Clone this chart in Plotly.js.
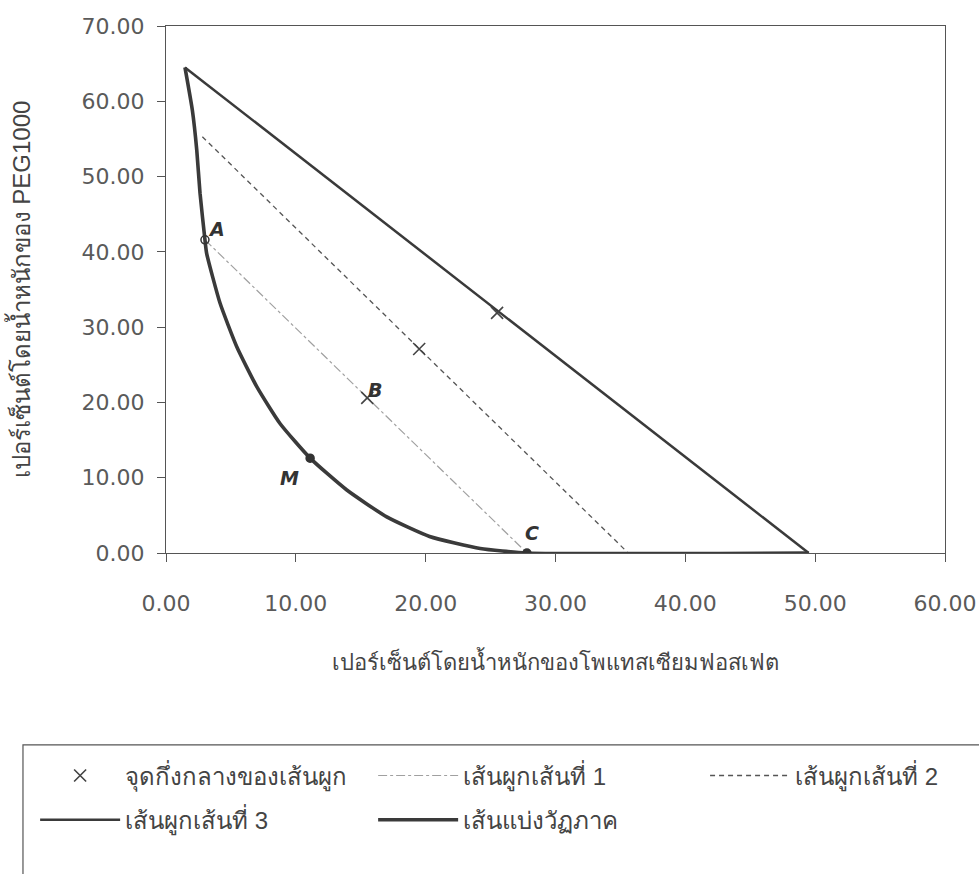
<!DOCTYPE html>
<html>
<head>
<meta charset="utf-8">
<script src="https://cdn.plot.ly/plotly-3.0.1.min.js"></script>
<style>html,body{margin:0;padding:0;background:#fff;}#chart{width:979px;height:874px;}</style>
</head>
<body>
<div id="chart"></div>
<script>
// ---- data ----
const binodalX = [1.46, 2.03, 2.37, 2.62, 3.0, 3.13, 4.16, 5.45, 6.99, 8.78, 11.1, 13.9, 17.0, 20.3, 24.2, 27.8, 49.5];
const binodalY = [64.5, 58.8, 53.5, 47.8, 41.6, 39.8, 33.2, 27.4, 22.1, 17.2, 12.6, 8.4, 4.8, 2.2, 0.6, 0.0, 0.0];

const tie1X = [3.0, 27.8];
const tie1Y = [41.6, 0.0];
const tie2X = [2.8, 35.6];
const tie2Y = [55.3, 0.0];
const tie3X = [1.46, 49.5];
const tie3Y = [64.5, 0.0];

const midX = [15.5, 19.5, 25.5];
const midY = [20.6, 27.1, 31.9];

const pointX = [3.0, 11.1, 27.8];
const pointY = [41.6, 12.6, 0.0];
const pointSymbols = ['circle-open', 'circle', 'circle'];

const labelText = ['A', 'B', 'M', 'C'];
const labelX = [3.9, 16.1, 9.5, 28.2];
const labelY = [43.0, 21.6, 10.0, 2.6];

const names = ['จุดกึ่งกลางของเส้นผูก', 'เส้นผูกเส้นที่ 1', 'เส้นผูกเส้นที่ 2', 'เส้นผูกเส้นที่ 3', 'เส้นแบ่งวัฏภาค'];
const xTitle = 'เปอร์เซ็นต์โดยน้ำหนักของโพแทสเซียมฟอสเฟต';
const yTitle = 'เปอร์เซ็นต์โดยน้ำหนักของ PEG1000';

// ---- chart ----
const FONT = 'Liberation Sans, Arial, DejaVu Sans, Noto Sans, sans-serif';
const TICKFONT = 'DejaVu Sans, Liberation Sans, sans-serif';
const ink = '#3a3a3a';

const traces = [
  {x: tie1X, y: tie1Y, mode: 'lines', name: names[1], legend: 'legend', legendrank: 2,
   line: {color: '#a0a0a0', width: 1.2, dash: 'dashdot'}},
  {x: tie2X, y: tie2Y, mode: 'lines', name: names[2], legend: 'legend3', legendrank: 1,
   line: {color: '#555', width: 1.3, dash: '5px,4px'}},
  {x: tie3X, y: tie3Y, mode: 'lines', name: names[3], legend: 'legend2', legendrank: 1,
   line: {color: ink, width: 2.5}},
  {x: binodalX, y: binodalY, mode: 'lines', name: names[4], legend: 'legend2', legendrank: 2,
   line: {color: ink, width: 3.6, shape: 'spline', smoothing: 0.5}},
  {x: midX, y: midY, mode: 'markers', name: names[0], legend: 'legend', legendrank: 1,
   marker: {symbol: 'x-thin-open', size: 12, line: {color: '#444', width: 1.6}, color: '#444'}},
  {x: pointX, y: pointY, mode: 'markers', showlegend: false,
   marker: {symbol: pointSymbols, size: 8, color: '#333', line: {color: '#333', width: 1.5}}}
];

const annotations = labelText.map((t, i) => ({
  x: labelX[i], y: labelY[i], xref: 'x', yref: 'y', text: '<b><i>' + t + '</i></b>',
  showarrow: false, font: {family: 'DejaVu Sans, sans-serif', size: 19, color: '#333'}
}));

const axisCommon = {
  showgrid: false, zeroline: false, showline: true, linecolor: '#555', linewidth: 1.2,
  mirror: true, ticks: 'outside', ticklen: 8, tickcolor: '#555', tickwidth: 1,
  tickformat: '.2f', dtick: 10, tickfont: {family: TICKFONT, size: 22, color: '#5a5a5a'}
};

const legendCommon = {
  orientation: 'h', xanchor: 'left', yanchor: 'middle',
  entrywidth: 243, entrywidthmode: 'pixels', itemwidth: 80,
  font: {family: FONT, size: 24, color: '#444'}, bgcolor: 'rgba(0,0,0,0)', borderwidth: 0
};

const layout = {
  width: 979, height: 874,
  margin: {l: 166, r: 34, t: 26, b: 321, autoexpand: false},
  paper_bgcolor: '#fff', plot_bgcolor: '#fff',
  font: {family: FONT, color: '#444'},
  xaxis: Object.assign({}, axisCommon, {
    range: [0, 60], ticklabelstandoff: 22, automargin: false,
    title: {text: xTitle, font: {family: FONT, size: 22, color: '#444'}, standoff: 40}
  }),
  yaxis: Object.assign({}, axisCommon, {
    range: [0, 70], ticklabelstandoff: 8, automargin: false,
    title: {text: yTitle, font: {family: FONT, size: 24, color: '#444'}, standoff: 44}
  }),
  legend: Object.assign({}, legendCommon, {x: -0.168, y: -0.423}),
  legend3: Object.assign({}, legendCommon, {x: 0.692, y: -0.423}),
  legend2: Object.assign({}, legendCommon, {x: -0.168, y: -0.507}),
  shapes: [{
    type: 'rect', xref: 'paper', yref: 'paper', x0: -0.1836, x1: 1.08, y0: -0.364, y1: -0.66,
    line: {color: '#555', width: 1.2}, fillcolor: 'rgba(0,0,0,0)', layer: 'below'
  }],
  annotations: annotations,
  showlegend: true
};

Plotly.newPlot('chart', traces, layout, {displayModeBar: false, staticPlot: true});
</script>
</body>
</html>
